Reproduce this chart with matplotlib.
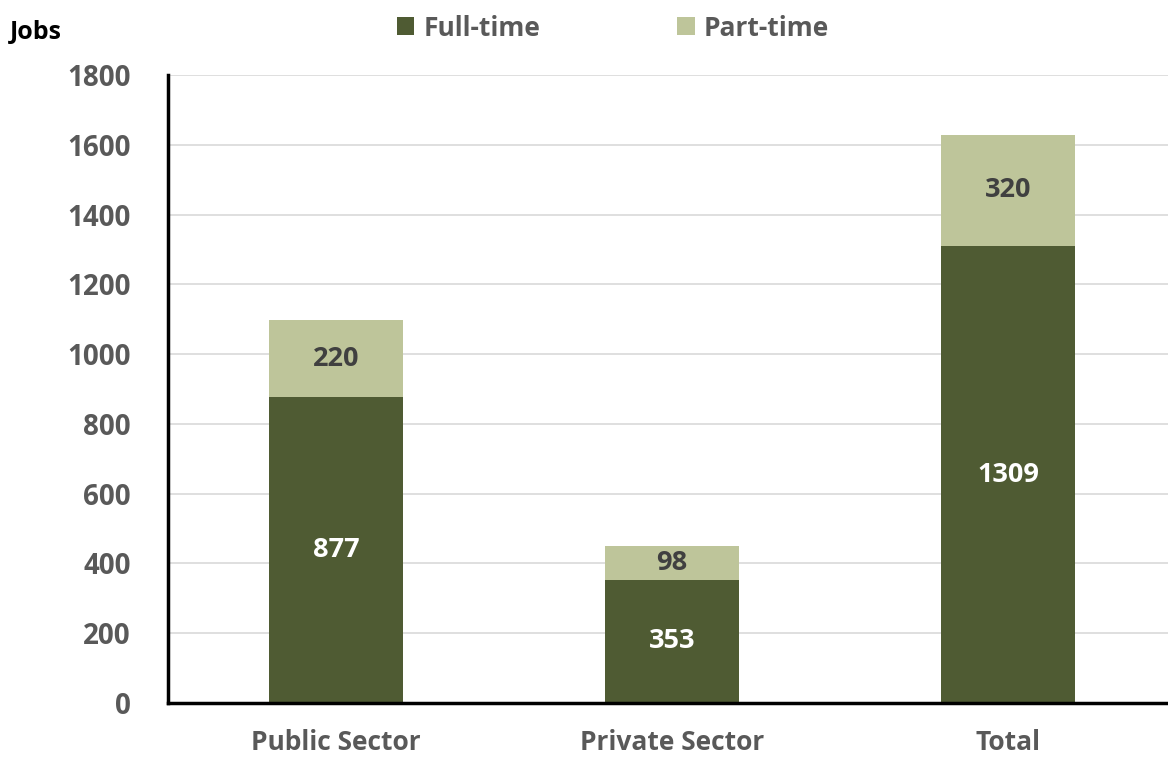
import matplotlib
matplotlib.use("Agg")
import matplotlib.pyplot as plt
import numpy as np

categories = ["Public Sector", "Private Sector", "Total"]
full_time = [877, 353, 1309]
part_time = [220, 98, 320]
yticks = [0, 200, 400, 600, 800, 1000, 1200, 1400, 1600, 1800]

c_full = "#4F5B33"
c_part = "#BEC59A"

plt.rcParams["font.family"] = ["Open Sans", "DejaVu Sans"]
plt.rcParams["font.weight"] = "bold"

fig = plt.figure(figsize=(11.68, 7.58), dpi=100)
ax = fig.add_axes([168/1168, 55/758, 1008/1168, (703-75)/758])

x = np.arange(len(categories))
w = 0.40
b1 = ax.bar(x, full_time, w, color=c_full, label="Full-time", zorder=3)
b2 = ax.bar(x, part_time, w, bottom=full_time, color=c_part, label="Part-time", zorder=3)

for xi, f, p in zip(x, full_time, part_time):
    ax.text(xi, f / 2, str(f), ha="center", va="center", color="white",
            fontsize=19.5, fontweight="bold", zorder=4)
    ax.text(xi, f + p / 2, str(p), ha="center", va="center", color="#404040",
            fontsize=19.5, fontweight="bold", zorder=4)

ax.set_xlim(-0.5, 2.5)
ax.set_ylim(0, 1800)
ax.set_yticks(yticks)
ax.set_yticklabels([str(t) for t in yticks], fontsize=20, fontweight="bold", color="#595959")
ax.set_xticks(x)
ax.set_xticklabels(categories, fontsize=19, fontweight="bold", color="#595959")
ax.tick_params(axis="both", length=0)
ax.tick_params(axis="y", pad=27)
ax.tick_params(axis="x", pad=19)
ax.grid(axis="y", color="#D9D9D9", linewidth=1.2, zorder=0)
for s in ["top", "right"]:
    ax.spines[s].set_visible(False)
ax.spines["left"].set_linewidth(2.5)
ax.spines["bottom"].set_linewidth(2.5)
ax.spines["left"].set_zorder(5)
ax.spines["bottom"].set_zorder(5)

fig.text(10/1168, 1 - 32/758, "Jobs", ha="left", va="center", fontsize=18,
         fontweight="bold", color="black")

leg = fig.legend(handles=[b1, b2], loc="center", bbox_to_anchor=(613/1168, 1 - 28/758),
                 ncol=2, frameon=False, fontsize=19, handlelength=0.65, handleheight=0.65,
                 handletextpad=0.35, columnspacing=5.2)
for t in leg.get_texts():
    t.set_color("#595959")
    t.set_fontweight("bold")

fig.savefig("out.png", dpi=100)
